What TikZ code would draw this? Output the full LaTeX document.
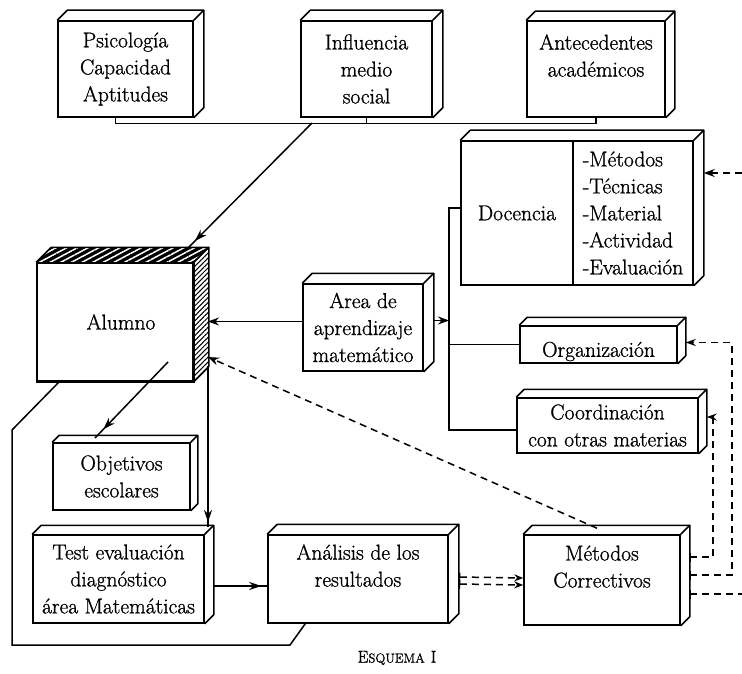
\documentclass[tikz,border=0pt]{standalone}
\usepackage{fontspec}
\setmainfont{Latin Modern Roman}[FakeBold=1.0]
\usetikzlibrary{arrows.meta,decorations.markings,patterns.meta,calc}
\tikzset{
  x=1pt, y=-1pt,
  lw/.style={line width=1.5pt},
  box/.style={draw, line width=1.5pt, inner sep=0pt, align=center, fill=white,
    font=\fontsize{21.5}{27}\selectfont},
  dsh/.style={line width=1.5pt, dash pattern=on 7pt off 5pt},
  tipend/.style={-{Stealth[length=11pt,width=8pt]}},
  markarr/.style={postaction={decorate}, decoration={markings,
    mark=at position #1 with {\arrow{Stealth[length=12pt,width=8pt]}}}}
}
\newcommand\cuboid[3]{%
  \draw[lw, line join=round] (#1.north west) -- ++(#3,-#3) -- ($(#2.north east)+(#3,-#3)$)
    -- ($(#2.south east)+(#3,-#3)$) -- (#2.south east);
  \draw[lw] (#2.north east) -- ++(#3,-#3);
}
\newcommand\lowertext[2]{\raisebox{-#1}[\height][\depth]{#2}}
\begin{document}
\begin{tikzpicture}
\useasboundingbox (0,0) rectangle (742,674);

% boxes
\node[box, minimum width=135pt, minimum height=96pt] (psi) at (125.5,69) {Psicología\\Capacidad\\Aptitudes};
\node[box, minimum width=131pt, minimum height=96pt] (inf) at (366.5,69) {Influencia\\medio\\social};
\node[box, minimum width=138pt, minimum height=96pt] (ant) at (596,69) {Antecedentes\\académicos\\\mbox{}};
\node[box, minimum width=112pt, minimum height=144pt] (docL) at (517,213) {Docencia};
\node[box, minimum width=120pt, minimum height=144pt, align=left] (docR) at (633,213) {-Métodos\\-Técnicas\\-Material\\-Actividad\\-Evaluación};
\node[box, minimum width=156pt, minimum height=118pt] (alu) at (115,322) {\hspace*{12pt}Alumno};
\node[box, minimum width=120pt, minimum height=87pt] (area) at (363,327.5) {Area de\\aprendizaje\\matemático};
\node[box, minimum width=157pt, minimum height=37pt] (org) at (598.5,344.5) {\lowertext{7pt}{Organización}};
\node[box, minimum width=181pt, minimum height=55pt] (coo) at (607.5,425.5) {Coordinación\\con otras materias};
\node[box, minimum width=137pt, minimum height=67pt] (obj) at (121.5,476.5) {Objetivos\\escolares};
\node[box, minimum width=171pt, minimum height=88pt] (test) at (118.5,579) {Test evaluación\\diagnóstico\\área Matemáticas};
\node[box, minimum width=180pt, minimum height=88pt] (ana) at (358,579) {Análisis de los\\resultados\\\mbox{}};
\node[box, minimum width=156pt, minimum height=90pt] (met) at (602,580) {Métodos\\Correctivos\\\mbox{}};
\node (cap) at (397,658) {{\fontsize{17}{18}\selectfont E}{\fontsize{13}{18}\selectfont SQUEMA}\hspace{6pt}{\fontsize{17}{18}\selectfont I}};

% 3d faces
\cuboid{psi}{psi}{10}
\cuboid{inf}{inf}{10}
\cuboid{ant}{ant}{9}
\cuboid{docL}{docR}{10}
\cuboid{area}{area}{10}
\cuboid{org}{org}{8}
\cuboid{coo}{coo}{8}
\cuboid{obj}{obj}{7}
\cuboid{test}{test}{9}
\cuboid{ana}{ana}{10}
\cuboid{met}{met}{9}

% hatched Alumno
\fill[black] (alu.north west) -- ++(15,-15) -- ($(alu.north east)+(15,-15)$) -- (alu.north east) -- cycle;
\fill[pattern={Lines[angle=28,distance=5pt,line width=1.5pt]}, pattern color=white]
  (alu.north west) -- ++(15,-15) -- ($(alu.north east)+(15,-15)$) -- (alu.north east) -- cycle;
\fill[white] (alu.north east) -- ++(15,-15) -- ($(alu.south east)+(15,-15)$) -- (alu.south east) -- cycle;
\fill[pattern={Lines[angle=45,distance=3.5pt,line width=1pt]}]
  (alu.north east) -- ++(15,-15) -- ($(alu.south east)+(15,-15)$) -- (alu.south east) -- cycle;
\draw[lw, line join=round] (alu.north west) -- ++(15,-15) -- ($(alu.north east)+(15,-15)$)
  -- ($(alu.south east)+(15,-15)$) -- (alu.south east);
\draw[lw] (alu.north east) -- ++(15,-15);
\draw[lw] (alu.north west) rectangle (alu.south east);

% coordinates
\coordinate (b1) at (312,123);
\coordinate (aluT) at (188,248);
\coordinate (a2) at (168,362);
\coordinate (objT) at (95,438);
\coordinate (a3) at (208,366);
\coordinate (testT) at (208,527);
\coordinate (aluRM) at (208,321.5);
\coordinate (aluRS) at (208,357);
\coordinate (busA) at (449,320.5);
\coordinate (bt) at (449,208);
\coordinate (bb) at (449,430);
\coordinate (m1) at (689,557);
\coordinate (m2) at (689,575);
\coordinate (m3) at (689,594);
\coordinate (e1) at (742,173);
\coordinate (e2) at (742,594);

% top bus
\draw[lw] ([xshift=-10pt]psi.south) -- ++(0,6) -| (ant.south);
\draw[lw] (inf.south) -- ++(0,6);
\draw[lw, markarr=-10pt] (b1) -- (aluT);

% Alumno outputs
\draw[lw, markarr=-12pt] (a2) -- (objT);
\draw[lw, markarr=-5pt] (a3) -- (testT);
\draw[lw] ([xshift=23pt]alu.south west) -- (12,430) -- (12,645) -- (290,645) -- ([xshift=38pt]ana.south west);

% Area
\draw[lw, tipend] ([yshift=6pt]area.west) -- (aluRM);
\draw[lw, tipend] ([shift={(10pt,7pt)}]area.east) -- (busA);
\draw[lw] ([yshift=5pt]docL.west) -- (bt) -- (bb) -- (bb -| coo.west);
\draw[lw] (bt |- org.west) -- (org.west);

% bottom row
\draw[lw, markarr=-6pt] ([shift={(9pt,-7pt)}]test.east) -- ([yshift=-7pt]ana.west);
\draw[dsh, {Bar[width=9pt]}-{Stealth[length=9pt,width=7pt]}] ([shift={(10pt,2pt)}]ana.east) -- ([yshift=2pt]met.west);
\draw[dsh, {Bar[width=9pt]}-{Stealth[length=9pt,width=7pt]}] ([shift={(10pt,-5pt)}]ana.east) -- ([yshift=-5pt]met.west);

% feedback dashed
\draw[dsh, tipend] ([shift={(-5pt,6pt)}]met.north) -- (aluRS);
\draw[dsh, {Bar[width=9pt]}-{Stealth[length=10pt,width=7pt]}] (m1) -- (713,557) -- (713,417) -- ([shift={(8pt,8.5pt)}]coo.east);
\draw[dsh, {Bar[width=9pt]}-{Stealth[length=10pt,width=7pt]}] (m2) -- (732,575) -- (732,342.5) -- ([shift={(8pt,2pt)}]org.east);
\draw[dsh, {Bar[width=9pt]}-] (m3) -- (e2);
\draw[dsh, tipend] (e1) -- ([shift={(10pt,40pt)}]docR.east);
\end{tikzpicture}
\end{document}
